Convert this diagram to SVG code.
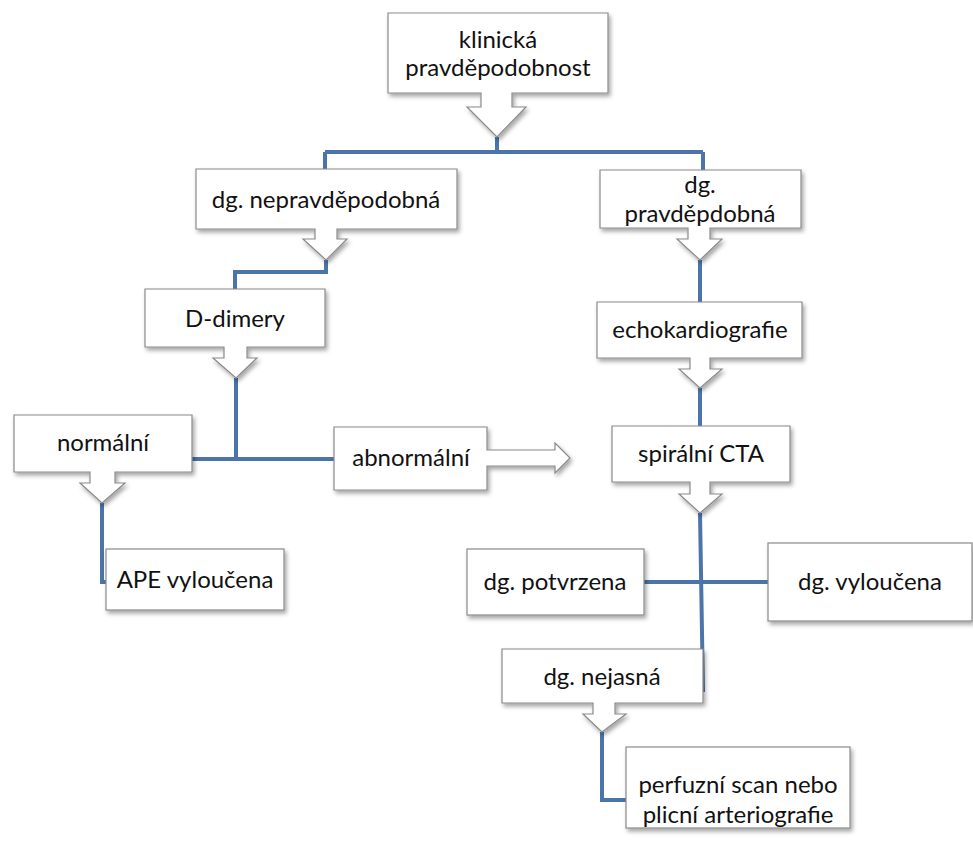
<svg xmlns="http://www.w3.org/2000/svg" width="973" height="848" viewBox="0 0 973 848">
<defs>
<filter id="sh" x="-10%" y="-10%" width="125%" height="130%">
<feDropShadow dx="2" dy="3" stdDeviation="2" flood-color="#000" flood-opacity="0.35"/>
</filter>
</defs>
<style>
.box{fill:#fff;stroke:#8a8a8a;stroke-width:1.2;filter:url(#sh)}
.t{font-family:Lato,"Open Sans","Liberation Sans",sans-serif;font-size:24px;fill:#111;text-anchor:middle}
.c{fill:none;stroke:#4a74aa;stroke-width:4;stroke-linejoin:miter}
</style>
<rect width="973" height="848" fill="#fff"/>
<g id="connectors">
<path class="c" d="M497,137 V152 M325,152 H703 M325,152 V169 M703,152 V170"/>
<path class="c" d="M326,260 V272 H235 V289"/>
<path class="c" d="M700,260 V302"/>
<path class="c" d="M700,388 V426"/>
<path class="c" d="M236,378 V459 M192,459 H334"/>
<path class="c" d="M102,503 V582 H106"/>
<path class="c" d="M700,513 L703,692 M644,582 H768"/>
<path class="c" d="M602,732 V800 H626"/>
</g>
<g id="n1"><path class="box" d="M388,13 H608 V93 H512 V107 H526 L497,137 L467,107 H481 V93 H388 Z"/>
<text class="t" x="498" y="48">klinická</text><text class="t" x="498" y="76">pravděpodobnost</text></g>
<g id="n2"><path class="box" d="M196,169 H457 V229 H337 V239 H347 L326,260 L303,239 H315 V229 H196 Z"/>
<text class="t" x="326" y="208">dg. nepravděpodobná</text></g>
<g id="n3"><path class="box" d="M600,170 H801 V228 H710 V239 H722 L700,260 L677,239 H688 V228 H600 Z"/>
<text class="t" x="700" y="193">dg.</text><text class="t" x="700" y="222">pravděpdobná</text></g>
<g id="n4"><path class="box" d="M145,289 H325 V347 H247 V358 H257 L236,378 L213,358 H224 V347 H145 Z"/>
<text class="t" x="235" y="327">D-dimery</text></g>
<g id="n5"><path class="box" d="M597,302 H802 V358 H710 V369 H722 L700,388 L679,369 H690 V358 H597 Z"/>
<text class="t" x="700" y="338">echokardiografie</text></g>
<g id="n6"><path class="box" d="M14,415 H192 V472 H115 V483 H125 L102,503 L80,483 H90 V472 H14 Z"/>
<text class="t" x="103" y="451">normální</text></g>
<g id="n7"><path class="box" d="M334,427 H487 V450 H555 V443 L570,458 L555,473 V466 H487 V490 H334 Z"/>
<text class="t" x="411" y="466">abnormální</text></g>
<g id="n8"><path class="box" d="M612,426 H790 V482 H710 V494 H722 L700,513 L679,494 H690 V482 H612 Z"/>
<text class="t" x="701" y="462">spirální CTA</text></g>
<g id="n9"><rect class="box" x="106" y="549" width="178" height="61"/>
<text class="t" x="195" y="588">APE vyloučena</text></g>
<g id="n10"><rect class="box" x="467" y="549" width="177" height="66"/>
<text class="t" x="555" y="590">dg. potvrzena</text></g>
<g id="n11"><rect class="box" x="768" y="543" width="204" height="78"/>
<text class="t" x="870" y="590">dg. vyloučena</text></g>
<g id="n12"><path class="box" d="M502,649 H703 V703 H615 V714 H626 L602,732 L583,714 H593 V703 H502 Z"/>
<text class="t" x="602" y="685">dg. nejasná</text></g>
<g id="n13"><rect class="box" x="626" y="747" width="224" height="81"/>
<text class="t" x="738" y="793">perfuzní scan nebo</text><text class="t" x="738" y="823">plicní arteriografie</text></g>
</svg>
